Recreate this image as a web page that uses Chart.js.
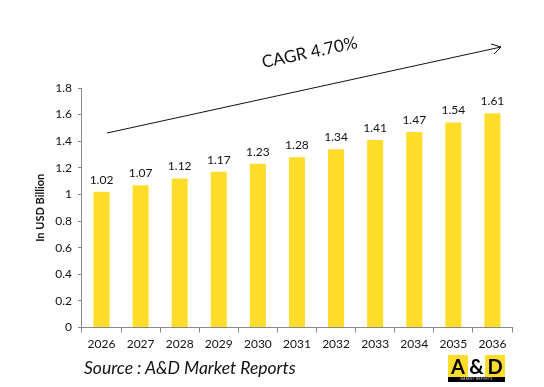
<!DOCTYPE html>
<html><head><meta charset="utf-8">
<script src="https://cdn.jsdelivr.net/npm/chart.js@4/dist/chart.umd.min.js"></script>
<style>
html,body{margin:0;padding:0;background:#fff;}
#wrap{position:relative;width:544px;height:387px;overflow:hidden;}
canvas{position:absolute;left:0;top:0;}
#cagr{position:absolute;left:264px;top:51px;font:17px Lato,"Open Sans",sans-serif;color:#111;transform:rotate(-12deg);transform-origin:0 100%;white-space:nowrap;}
#src{position:absolute;left:84px;top:357px;font:italic 17.5px Lato,"Open Sans",sans-serif;color:#111;white-space:nowrap;}
#logo{position:absolute;left:448px;top:355px;width:57px;height:28px;}
#logo .row{display:flex;height:22px;}
#logo .row div{font:bold 20px Lato,"Liberation Sans",sans-serif;color:#000;text-align:center;line-height:22px;}
#logo .strip{background:#000;color:#ddd;font:3px sans-serif;text-align:center;height:5px;line-height:5px;letter-spacing:0.3px;}
</style></head>
<body><div id="wrap">
<canvas id="c" width="544" height="387"></canvas>
<svg width="544" height="387" style="position:absolute;left:0;top:0;pointer-events:none">
<line x1="107" y1="133" x2="501" y2="47" stroke="#111" stroke-width="1"/>
<polyline points="491,44 501,47 494,54" fill="none" stroke="#111" stroke-width="1"/>
</svg>
<div id="cagr">CAGR 4.70%</div>
<div id="src">Source : A&amp;D Market Reports</div>
<div id="logo"><div class="row"><div style="width:20px;background:#FFDD2A">A</div><div style="width:17px;background:#fff">&amp;</div><div style="width:20px;background:#FFDD2A">D</div></div><div class="strip">MARKET REPORTS</div></div>
</div>
<script>
const categories = ["2026","2027","2028","2029","2030","2031","2032","2033","2034","2035","2036"];
const values = [1.02,1.07,1.12,1.17,1.23,1.28,1.34,1.41,1.47,1.54,1.61];
const yTicks = [0,0.2,0.4,0.6,0.8,1,1.2,1.4,1.6,1.8];
const axisTitle = "In USD Billion";

const labelPlugin = {
  id:'vals',
  afterDatasetsDraw(chart){
    const ctx = chart.ctx; const meta = chart.getDatasetMeta(0);
    ctx.save(); ctx.font = '12px Lato, "Open Sans", sans-serif'; ctx.fillStyle = '#111';
    ctx.textAlign='center'; ctx.textBaseline='bottom';
    meta.data.forEach((b,i)=>{ ctx.fillText(values[i].toFixed(2), b.x, b.y-6); });
    ctx.restore();
  }
};
new Chart(document.getElementById('c'), {
  type:'bar',
  data:{labels:categories,datasets:[{data:values,backgroundColor:'#FFDD2A',categoryPercentage:1,barPercentage:0.41}]},
  options:{
    responsive:false,animation:false,
    layout:{padding:{left:34,right:32,top:88,bottom:32}},
    plugins:{legend:{display:false},tooltip:{enabled:false}},
    scales:{
      x:{grid:{display:true,drawOnChartArea:false,color:'#888',tickLength:5,offset:true},border:{color:'#888'},
         ticks:{color:'#111',font:{family:'Lato, "Open Sans", sans-serif',size:12},padding:4,maxRotation:0}},
      y:{min:0,max:1.8,afterBuildTicks(ax){ax.ticks=yTicks.map(v=>({value:v}));},
         grid:{display:true,drawOnChartArea:false,color:'#888',tickLength:4},border:{color:'#888'},
         ticks:{color:'#111',font:{family:'Lato, "Open Sans", sans-serif',size:12},padding:6,callback:v=>String(v)},
         title:{display:true,text:axisTitle,color:'#111',font:{family:'Lato, "Open Sans", sans-serif',size:11,weight:'bold'},padding:{top:0,bottom:2}}}
    }
  },
  plugins:[labelPlugin]
});
</script>
</body></html>
